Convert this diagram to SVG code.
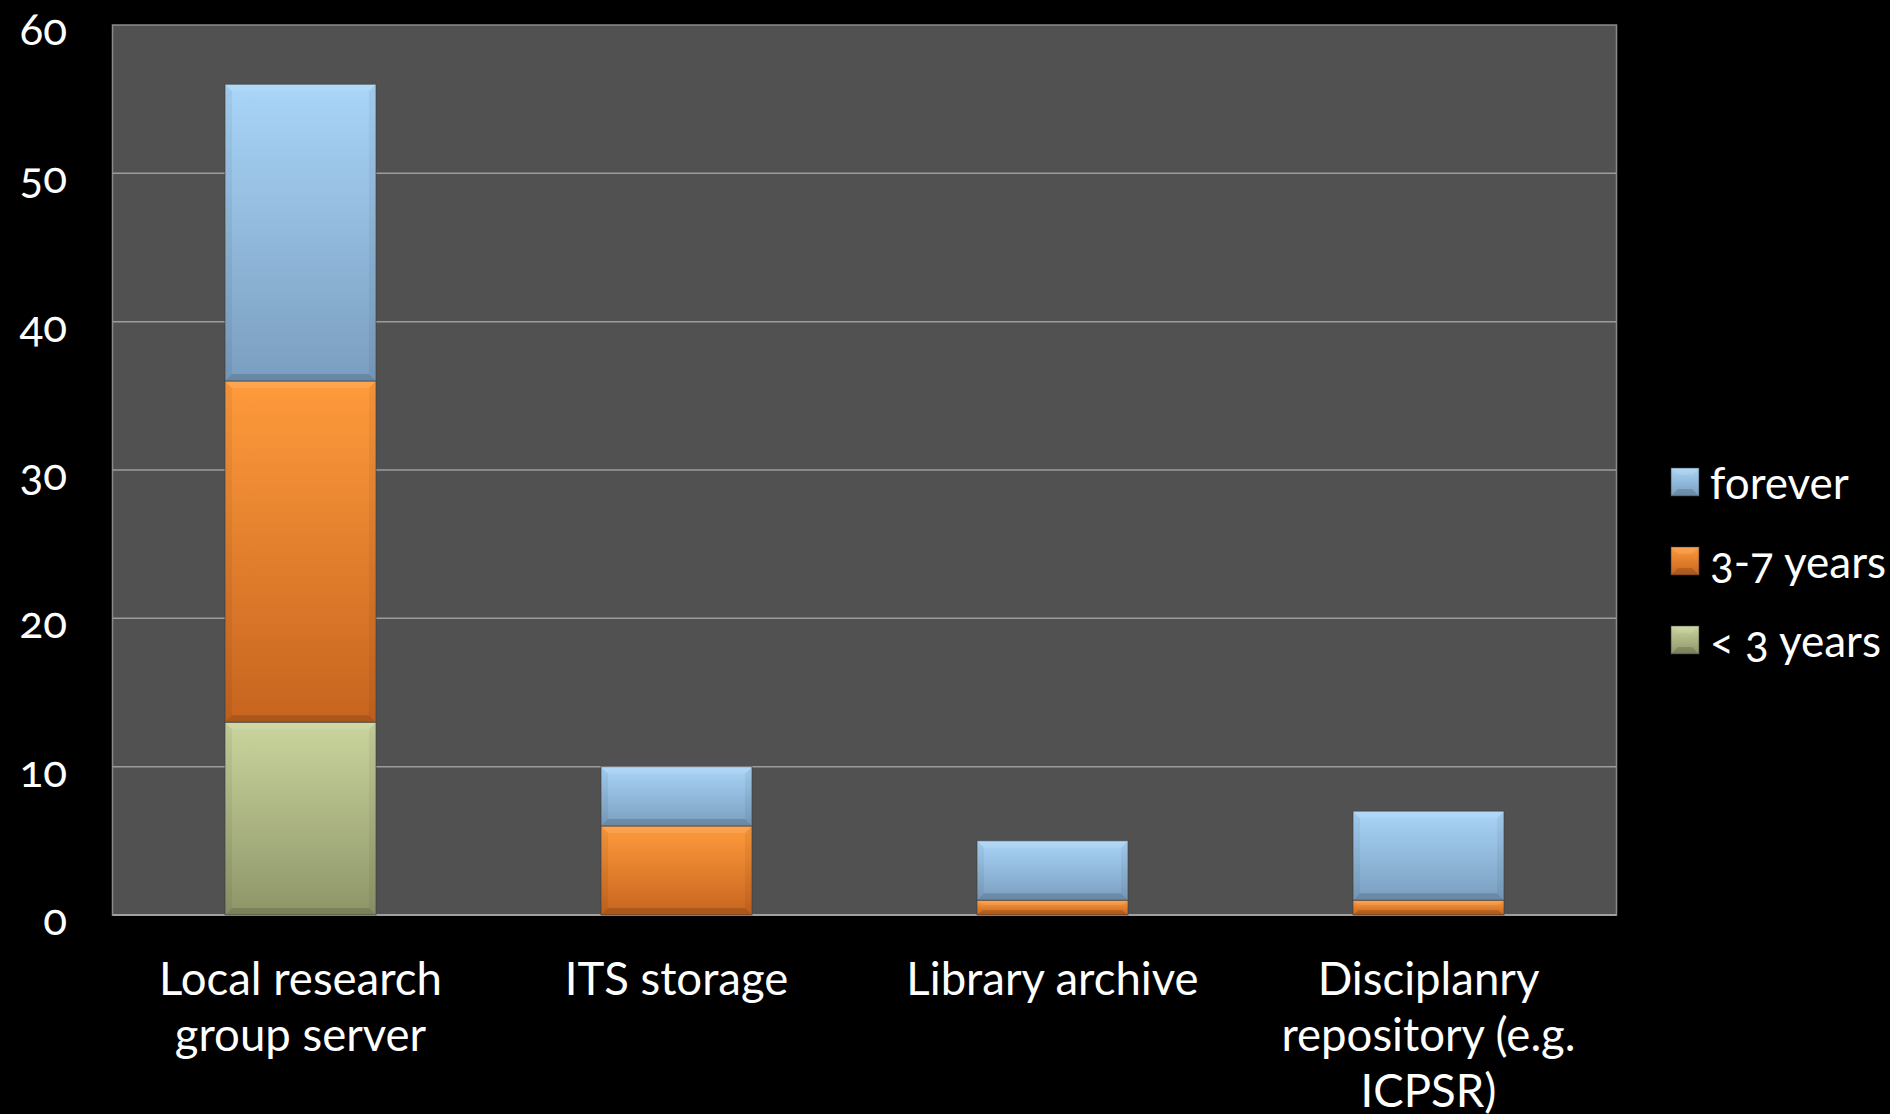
<svg xmlns="http://www.w3.org/2000/svg" width="1890" height="1114" viewBox="0 0 1890 1114">
  <defs>
    <linearGradient id="gBlue" x1="0" y1="0" x2="0" y2="1">
      <stop offset="0" stop-color="#a9d5f8"/>
      <stop offset="1" stop-color="#7a9ebf"/>
    </linearGradient>
    <linearGradient id="gOrange" x1="0" y1="0" x2="0" y2="1">
      <stop offset="0" stop-color="#ff9b3c"/>
      <stop offset="1" stop-color="#c6641f"/>
    </linearGradient>
    <linearGradient id="gGreen" x1="0" y1="0" x2="0" y2="1">
      <stop offset="0" stop-color="#cad59d"/>
      <stop offset="1" stop-color="#8d9568"/>
    </linearGradient>
  </defs>
  <style>
    .txt { font-family: Lato, "Open Sans", "Liberation Sans", sans-serif; fill: #ffffff; font-size: 44px; font-variant-numeric: oldstyle-nums; font-feature-settings: "onum" 1; }
    .ylab { text-anchor: end; }
    .clab { text-anchor: middle; font-size: 45.5px; }
    .grid { stroke: #9c9c9c; stroke-width: 1.5; }
    .seg { stroke: #3a3a3a; stroke-width: 1; stroke-opacity: 0.6; }
    .blue { fill: url(#gBlue); }
    .orange { fill: url(#gOrange); }
    .green { fill: url(#gGreen); }
    .hi { fill: #ffffff; fill-opacity: 0.1; }
    .lo { fill: #000000; fill-opacity: 0.14; }
    .side { fill: #000000; fill-opacity: 0.05; }
  </style>
  <rect x="0" y="0" width="1890" height="1114" fill="#000000"/>

  <g id="plot-area">
    <rect x="112.5" y="25" width="1504" height="890" fill="#515151" stroke="#8a8a8a" stroke-width="1.5"/>
    <line class="grid" x1="112.5" y1="173.3" x2="1616.5" y2="173.3"/>
    <line class="grid" x1="112.5" y1="321.7" x2="1616.5" y2="321.7"/>
    <line class="grid" x1="112.5" y1="470" x2="1616.5" y2="470"/>
    <line class="grid" x1="112.5" y1="618.3" x2="1616.5" y2="618.3"/>
    <line class="grid" x1="112.5" y1="766.7" x2="1616.5" y2="766.7"/>
    <line x1="112.5" y1="915" x2="1616.5" y2="915" stroke="#a0a0a0" stroke-width="2"/>
  </g>

  <g id="y-axis">
    <text class="txt ylab" x="67" y="45">60</text>
    <text class="txt ylab" x="67" y="193.3">50</text>
    <text class="txt ylab" x="67" y="341.7">40</text>
    <text class="txt ylab" x="67" y="490">30</text>
    <text class="txt ylab" x="67" y="638.3">20</text>
    <text class="txt ylab" x="67" y="786.7">10</text>
    <text class="txt ylab" x="67" y="935">0</text>
  </g>

  <g id="bar-local">
    <rect class="seg green" x="225" y="722.2" width="151" height="192.8"/>
    <polygon class="hi" points="225,722.2 376,722.2 369,729.2 232,729.2"/>
    <polygon class="lo" points="225,915 376,915 369,908 232,908"/>
    <polygon class="side" points="225,722.2 232,729.2 232,908 225,915"/>
    <polygon class="side" points="376,722.2 369,729.2 369,908 376,915"/>
    <rect class="seg orange" x="225" y="381" width="151" height="341.2"/>
    <polygon class="hi" points="225,381 376,381 369,388 232,388"/>
    <polygon class="lo" points="225,722.2 376,722.2 369,715.2 232,715.2"/>
    <polygon class="side" points="225,381 232,388 232,715.2 225,722.2"/>
    <polygon class="side" points="376,381 369,388 369,715.2 376,722.2"/>
    <rect class="seg blue" x="225" y="84.3" width="151" height="296.7"/>
    <polygon class="hi" points="225,84.3 376,84.3 369,91.3 232,91.3"/>
    <polygon class="lo" points="225,381 376,381 369,374 232,374"/>
    <polygon class="side" points="225,84.3 232,91.3 232,374 225,381"/>
    <polygon class="side" points="376,84.3 369,91.3 369,374 376,381"/>
  </g>

  <g id="bar-its">
    <rect class="seg orange" x="601" y="826" width="151" height="89"/>
    <polygon class="hi" points="601,826 752,826 745,833 608,833"/>
    <polygon class="lo" points="601,915 752,915 745,908 608,908"/>
    <polygon class="side" points="601,826 608,833 608,908 601,915"/>
    <polygon class="side" points="752,826 745,833 745,908 752,915"/>
    <rect class="seg blue" x="601" y="766.7" width="151" height="59.3"/>
    <polygon class="hi" points="601,766.7 752,766.7 745,773.7 608,773.7"/>
    <polygon class="lo" points="601,826 752,826 745,819 608,819"/>
    <polygon class="side" points="601,766.7 608,773.7 608,819 601,826"/>
    <polygon class="side" points="752,766.7 745,773.7 745,819 752,826"/>
  </g>

  <g id="bar-library">
    <rect class="seg orange" x="977" y="900.2" width="151" height="14.8"/>
    <polygon class="hi" points="977,900.2 1128,900.2 1122,905 983,905"/>
    <polygon class="lo" points="977,915 1128,915 1122,910 983,910"/>
    <rect class="seg blue" x="977" y="840.8" width="151" height="59.4"/>
    <polygon class="hi" points="977,840.8 1128,840.8 1121,847.8 984,847.8"/>
    <polygon class="lo" points="977,900.2 1128,900.2 1121,893.2 984,893.2"/>
    <polygon class="side" points="977,840.8 984,847.8 984,893.2 977,900.2"/>
    <polygon class="side" points="1128,840.8 1121,847.8 1121,893.2 1128,900.2"/>
  </g>

  <g id="bar-disciplinary">
    <rect class="seg orange" x="1353" y="900.2" width="151" height="14.8"/>
    <polygon class="hi" points="1353,900.2 1504,900.2 1498,905 1359,905"/>
    <polygon class="lo" points="1353,915 1504,915 1498,910 1359,910"/>
    <rect class="seg blue" x="1353" y="811.2" width="151" height="89"/>
    <polygon class="hi" points="1353,811.2 1504,811.2 1497,818.2 1360,818.2"/>
    <polygon class="lo" points="1353,900.2 1504,900.2 1497,893.2 1360,893.2"/>
    <polygon class="side" points="1353,811.2 1360,818.2 1360,893.2 1353,900.2"/>
    <polygon class="side" points="1504,811.2 1497,818.2 1497,893.2 1504,900.2"/>
  </g>

  <g id="x-axis-labels">
    <text class="txt clab" x="300.5" y="995">Local research</text>
    <text class="txt clab" x="300.5" y="1051">group server</text>
    <text class="txt clab" x="676.5" y="995">ITS storage</text>
    <text class="txt clab" x="1052.5" y="995">Library archive</text>
    <text class="txt clab" x="1428.5" y="995">Disciplanry</text>
    <text class="txt clab" x="1428.5" y="1051">repository (e.g.</text>
    <text class="txt clab" x="1428.5" y="1107">ICPSR)</text>
  </g>

  <g id="legend">
    <g id="legend-forever">
      <rect class="seg blue" x="1671" y="468" width="28" height="28"/>
      <polygon class="hi" points="1671,468 1699,468 1692,475 1678,475"/>
      <polygon class="lo" points="1671,496 1699,496 1692,489 1678,489"/>
      <text class="txt" x="1710" y="499">forever</text>
    </g>
    <g id="legend-3-7">
      <rect class="seg orange" x="1671" y="547" width="28" height="28"/>
      <polygon class="hi" points="1671,547 1699,547 1692,554 1678,554"/>
      <polygon class="lo" points="1671,575 1699,575 1692,568 1678,568"/>
      <text class="txt" x="1710" y="578">3-7 years</text>
    </g>
    <g id="legend-lt3">
      <rect class="seg green" x="1671" y="626" width="28" height="28"/>
      <polygon class="hi" points="1671,626 1699,626 1692,633 1678,633"/>
      <polygon class="lo" points="1671,654 1699,654 1692,647 1678,647"/>
      <text class="txt" x="1710" y="657">&lt; 3 years</text>
    </g>
  </g>
</svg>
